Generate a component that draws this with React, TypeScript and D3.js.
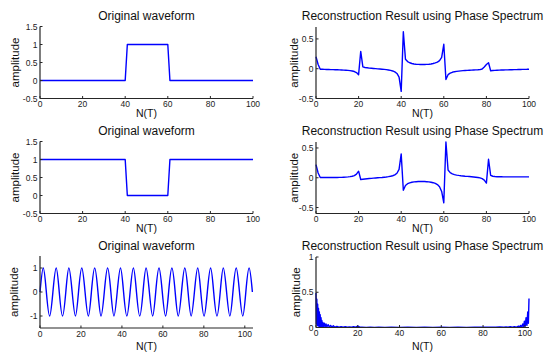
import React from 'react';
import * as d3 from 'd3';

const W = 546;
const H = 352;

// Panel 1 / 3: original rectangular waveforms
const pulseX = [0, 40, 41, 60, 61, 100];
const pulseY = [0, 0, 1, 1, 0, 0];
const notchY = [1, 1, 0, 0, 1, 1];

// Panel 2: reconstruction of pulse, n = 0..100
const recon1 = [
  0.2, 0.07, -0.01, -0.01, -0.012, -0.013, -0.014, -0.015, -0.016, -0.017,
  -0.018, -0.02, -0.021, -0.023, -0.025, -0.028, -0.032, -0.038, -0.047, -0.065,
  -0.1, 0.29, 0.03, 0.02, 0.015, 0.01, 0.007, 0.004, 0.001, -0.002,
  -0.005, -0.008, -0.012, -0.016, -0.021, -0.028, -0.038, -0.053, -0.08, -0.14,
  -0.38, 0.62, 0.16, 0.12, 0.1, 0.088, 0.08, 0.075, 0.072, 0.07,
  0.07, 0.07, 0.072, 0.075, 0.08, 0.087, 0.097, 0.11, 0.135, 0.19,
  0.41, -0.18, -0.1, -0.075, -0.06, -0.05, -0.045, -0.04, -0.036, -0.033,
  -0.03, -0.028, -0.026, -0.024, -0.022, -0.02, -0.018, -0.015, -0.005, 0.03,
  0.07, 0.1, -0.035, -0.03, -0.028, -0.026, -0.024, -0.022, -0.021, -0.02,
  -0.019, -0.018, -0.017, -0.016, -0.015, -0.014, -0.013, -0.012, -0.011, -0.01,
  -0.008,
];

// Panel 4: reconstruction of notch, n = 0..100
const recon2 = [
  0.22, 0.08, 0.003, 0.003, 0.003, 0.003, 0.003, 0.003, 0.004, 0.004,
  0.005, 0.006, 0.007, 0.009, 0.011, 0.014, 0.018, 0.025, 0.035, 0.06,
  0.11, -0.03, -0.025, -0.02, -0.016, -0.013, -0.01, -0.007, -0.004, -0.001,
  0.002, 0.005, 0.009, 0.013, 0.018, 0.025, 0.034, 0.048, 0.075, 0.14,
  0.4, -0.21, -0.13, -0.1, -0.085, -0.076, -0.07, -0.066, -0.064, -0.063,
  -0.063, -0.064, -0.066, -0.07, -0.075, -0.083, -0.095, -0.115, -0.15, -0.23,
  -0.42, 0.6, 0.13, 0.085, 0.065, 0.053, 0.045, 0.039, 0.034, 0.03,
  0.026, 0.023, 0.02, 0.017, 0.013, 0.009, 0.004, -0.003, -0.015, -0.04,
  -0.09, 0.31, 0.04, 0.025, 0.02, 0.017, 0.016, 0.016, 0.015, 0.015,
  0.015, 0.015, 0.015, 0.015, 0.015, 0.015, 0.015, 0.015, 0.015, 0.015,
  0.015,
];

// Panel 5: sine waveform, knots read at extrema and zero crossings
const sineX = [
  0, 1.6, 3.1, 4.7, 6.3, 7.9, 9.4, 11, 12.6, 14.1, 15.7, 17.3, 18.8, 20.4, 22, 23.6,
  25.1, 26.7, 28.3, 29.8, 31.4, 33, 34.6, 36.1, 37.7, 39.3, 40.8, 42.4, 44, 45.6, 47.1, 48.7,
  50.3, 51.8, 53.4, 55, 56.5, 58.1, 59.7, 61.3, 62.8, 64.4, 66, 67.5, 69.1, 70.7, 72.3, 73.8,
  75.4, 77, 78.5, 80.1, 81.7, 83.3, 84.8, 86.4, 88, 89.5, 91.1, 92.7, 94.2, 95.8, 97.4, 99,
  100.5, 102.1, 103.7,
];
const sineY = [
  0, 1, 0, -1, 0, 1, 0, -1, 0, 1, 0, -1, 0, 1, 0, -1,
  0, 1, 0, -1, 0, 1, 0, -1, 0, 1, 0, -1, 0, 1, 0, -1,
  0, 1, 0, -1, 0, 1, 0, -1, 0, 1, 0, -1, 0, 1, 0, -1,
  0, 1, 0, -1, 0, 1, 0, -1, 0, 1, 0, -1, 0, 1, 0, -1,
  0, 1, 0,
];

// Panel 6: reconstruction of sine (x, y)
const recon3: [number, number][] = [
  [0, 0.49], [0.2, 0.05], [0.4, 0.4], [0.6, 0.03], [0.8, 0.33], [1, 0.02], [1.2, 0.27], [1.4, 0.02],
  [1.6, 0.22], [1.8, 0.01], [2, 0.18], [2.2, 0.01], [2.4, 0.14], [2.6, 0.01], [2.8, 0.1], [3, 0.01],
  [3.3, 0.07], [3.6, 0.01], [4, 0.06], [4.4, 0.01], [4.8, 0.05], [5.2, 0.01], [5.8, 0.04], [6.4, 0.005],
  [7, 0.03], [7.6, 0.005], [8.3, 0.025], [9, 0.005], [10, 0.015], [11, 0.004], [12, 0.012], [13, 0.003],
  [14, 0.01], [15, 0.003], [16, 0.008], [17, 0.003], [18, 0.01], [19, 0.004], [20, 0.02], [21, 0.004],
  [22, 0.006], [24, 0.002], [26, 0.005], [28, 0.002], [30, 0.004], [33, 0.002], [36, 0.003], [40, 0.002],
  [44, 0.003], [48, 0.002], [52, 0.003], [56, 0.002], [60, 0.003], [64, 0.002], [68, 0.003], [72, 0.002],
  [76, 0.004], [80, 0.006], [82, 0.003], [84, 0.005], [86, 0.003], [88, 0.007], [90, 0.004], [91, 0.008],
  [92, 0.003], [93, 0.01], [94, 0.004], [95, 0.012], [96, 0.005], [97, 0.02], [97.5, 0.005], [98, 0.03],
  [98.5, 0.006], [99, 0.05], [99.4, 0.01], [99.8, 0.09], [100.2, 0.02], [100.6, 0.14], [101, 0.03],
  [101.4, 0.22], [101.7, 0.06], [102, 0.41],
];

const xTicks100 = [0, 20, 40, 60, 80, 100];
const yTicksRect = [-0.5, 0, 0.5, 1, 1.5];
const yTicksRecon = [-0.5, 0, 0.5];
const yTicksSine = [-1, 0, 1];
const yTicksRecon3 = [0, 0.5, 1];

const TITLE_ORIG = 'Original waveform';
const TITLE_RECON = 'Reconstruction Result using Phase Spectrum';
const XLABEL = 'N(T)';
const YLABEL = 'amplitude';

type Panel = {
  left: number;
  top: number;
  bottom: number;
  xDomain: [number, number];
  yDomain: [number, number];
  xTicks: number[];
  yTicks: number[];
  title: string;
  points: [number, number][];
  curve: d3.CurveFactory;
  ylabelX: number;
  titleY: number;
  xlabelY: number;
};

const AW = 213;
const FONT = '"Liberation Sans", Arial, Helvetica, sans-serif';

const panels: Panel[] = [
  {
    left: 40, top: 26.5, bottom: 98.5, xDomain: [0, 100], yDomain: [-0.5, 1.5],
    xTicks: xTicks100, yTicks: yTicksRect, title: TITLE_ORIG,
    points: pulseX.map((x, i) => [x, pulseY[i]]), curve: d3.curveLinear,
    ylabelX: 15, titleY: 19.5, xlabelY: 117,
  },
  {
    left: 316, top: 27, bottom: 98.5, xDomain: [0, 100], yDomain: [-0.5, 0.7],
    xTicks: xTicks100, yTicks: yTicksRecon, title: TITLE_RECON,
    points: recon1.map((v, i) => [i, v]), curve: d3.curveLinear,
    ylabelX: 294, titleY: 19.5, xlabelY: 117,
  },
  {
    left: 40, top: 141.5, bottom: 213.5, xDomain: [0, 100], yDomain: [-0.5, 1.5],
    xTicks: xTicks100, yTicks: yTicksRect, title: TITLE_ORIG,
    points: pulseX.map((x, i) => [x, notchY[i]]), curve: d3.curveLinear,
    ylabelX: 15, titleY: 134.5, xlabelY: 232,
  },
  {
    left: 316, top: 142, bottom: 213.5, xDomain: [0, 100], yDomain: [-0.6, 0.6],
    xTicks: xTicks100, yTicks: yTicksRecon, title: TITLE_RECON,
    points: recon2.map((v, i) => [i, v]), curve: d3.curveLinear,
    ylabelX: 294, titleY: 134.5, xlabelY: 232,
  },
  {
    left: 40, top: 256, bottom: 328, xDomain: [0, 104], yDomain: [-1.5, 1.5],
    xTicks: xTicks100, yTicks: yTicksSine, title: TITLE_ORIG,
    points: sineX.map((x, i) => [x, sineY[i]]), curve: d3.curveNatural,
    ylabelX: 14, titleY: 249.5, xlabelY: 350,
  },
  {
    left: 316, top: 257, bottom: 327.5, xDomain: [0, 102], yDomain: [0, 1],
    xTicks: xTicks100, yTicks: yTicksRecon3, title: TITLE_RECON,
    points: recon3, curve: d3.curveLinear,
    ylabelX: 296, titleY: 249.5, xlabelY: 350,
  },
];

function PanelView({ p }: { p: Panel }) {
  const x = d3.scaleLinear().domain(p.xDomain).range([p.left, p.left + AW]);
  const y = d3.scaleLinear().domain(p.yDomain).range([p.bottom, p.top]);
  const line = d3
    .line<[number, number]>()
    .x((d) => x(d[0]))
    .y((d) => y(d[1]))
    .curve(p.curve);
  const axisColor = '#262626';
  const cx = p.left + AW / 2;
  return (
    <g>
      <text x={cx} y={p.titleY} textAnchor="middle" fontSize={12} fontFamily={FONT} fill="#111">
        {p.title}
      </text>
      <path d={line(p.points) || ''} fill="none" stroke="#0000ff" strokeWidth={1.4} strokeLinejoin="round" />
      <line x1={p.left} x2={p.left} y1={p.top} y2={p.bottom} stroke={axisColor} strokeWidth={1.2} />
      <line x1={p.left} x2={p.left + AW} y1={p.bottom} y2={p.bottom} stroke={axisColor} strokeWidth={1.2} />
      {p.yTicks.map((t) => (
        <g key={'y' + t}>
          <line x1={p.left} x2={p.left + 2.5} y1={y(t)} y2={y(t)} stroke={axisColor} strokeWidth={1} />
          <text x={p.left - 2.5} y={y(t) + 3} textAnchor="end" fontSize={8.5} fontFamily={FONT} fill="#222">
            {String(t)}
          </text>
        </g>
      ))}
      {p.xTicks.map((t) => (
        <g key={'x' + t}>
          <line x1={x(t)} x2={x(t)} y1={p.bottom} y2={p.bottom - 2.5} stroke={axisColor} strokeWidth={1} />
          <text x={x(t)} y={p.bottom + 8.5} textAnchor="middle" fontSize={8.5} fontFamily={FONT} fill="#222">
            {String(t)}
          </text>
        </g>
      ))}
      <text x={cx} y={p.xlabelY} textAnchor="middle" fontSize={10.5} fontFamily={FONT} fill="#111">
        {XLABEL}
      </text>
      <text
        transform={`translate(${p.ylabelX},${(p.top + p.bottom) / 2}) rotate(-90)`}
        textAnchor="middle"
        dominantBaseline="central"
        fontSize={11.5}
        fontFamily={FONT}
        fill="#111"
      >
        {YLABEL}
      </text>
    </g>
  );
}

export default function App() {
  return (
    <svg
      width={W}
      height={H}
      viewBox={`0 0 ${W} ${H}`}
      style={{ position: 'absolute', left: 0, top: 0, background: '#fff' }}
    >
      <rect x={0} y={0} width={W} height={H} fill="#fff" />
      {panels.map((p, i) => (
        <PanelView key={i} p={p} />
      ))}
    </svg>
  );
}
